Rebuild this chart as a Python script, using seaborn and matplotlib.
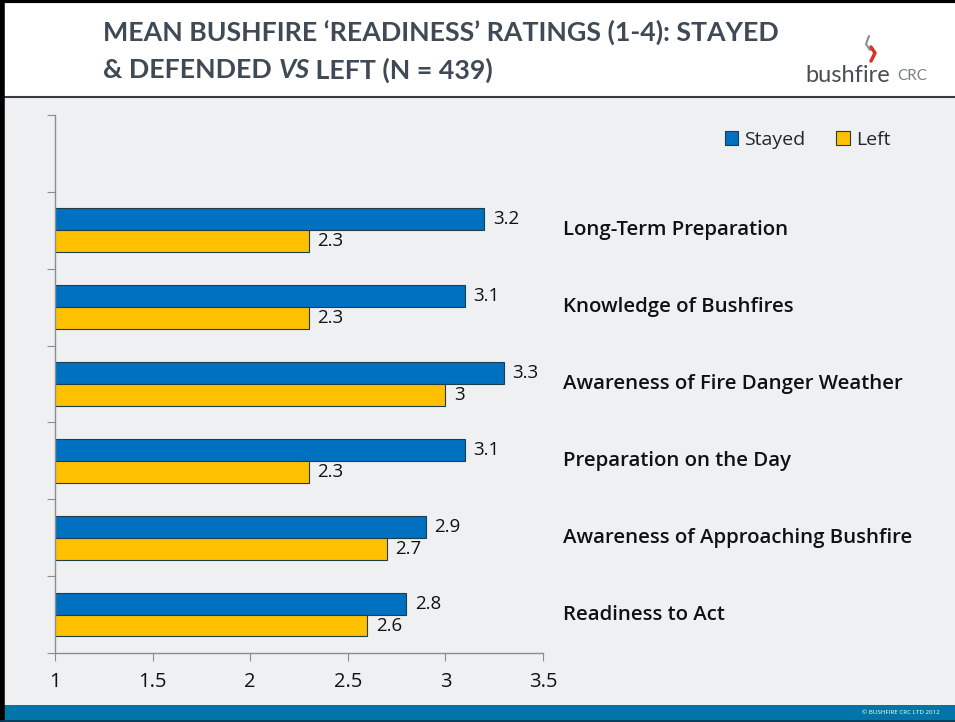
import numpy as np
import pandas as pd
import seaborn as sns
import matplotlib.pyplot as plt
from matplotlib.patches import Rectangle

# data
categories = ['Long-Term Preparation', 'Knowledge of Bushfires',
              'Awareness of Fire Danger Weather', 'Preparation on the Day',
              'Awareness of Approaching Bushfire', 'Readiness to Act']
stayed = [3.2, 3.1, 3.3, 3.1, 2.9, 2.8]
left = [2.3, 2.3, 3.0, 2.3, 2.7, 2.6]
groups = ['Stayed', 'Left']
x_ticks = [1, 1.5, 2, 2.5, 3, 3.5]

df = pd.DataFrame({
    'cat': categories * 2,
    'group': ['Stayed'] * len(categories) + ['Left'] * len(categories),
    'val': stayed + left,
})
order = [''] + categories   # top slot is left empty for the legend

sns.set_style('white')
plt.rcParams['font.family'] = ['Open Sans', 'DejaVu Sans']

bg = '#eff0f2'
fig = plt.figure(figsize=(9.55, 7.22), dpi=100, facecolor=bg)
W, H = 955, 722

# title band, borders, footer
fig.patches.append(Rectangle((0, 1 - 97 / H), 1, 97 / H, transform=fig.transFigure,
                             facecolor='white', edgecolor='none', zorder=0))
fig.add_artist(plt.Line2D([0, 1], [1 - 97 / H] * 2, transform=fig.transFigure,
                          color='#3a3a3a', lw=1.5))
fig.add_artist(plt.Line2D([0.002, 0.002], [0, 1], transform=fig.transFigure,
                          color='black', lw=4))
fig.add_artist(plt.Line2D([0, 1], [0.998, 0.998], transform=fig.transFigure,
                          color='black', lw=3))
fig.patches.append(Rectangle((0, 0), 1, 17 / H, transform=fig.transFigure,
                             facecolor='#0076a8', edgecolor='none'))
fig.add_artist(plt.Line2D([0, 1], [0.002, 0.002], transform=fig.transFigure,
                          color='#0a3d5a', lw=2))
fig.text(0.984, 9 / H, '\u00a9 BUSHFIRE CRC LTD 2012', color='white', fontsize=4.5,
         ha='right', va='center')

# title, line 2 is laid out piece by piece because of the italic "VS"
title_font = ['Lato', 'DejaVu Sans']
tc = '#404a55'
fig.text(103 / W, 1 - 32 / H, 'MEAN BUSHFIRE \u2018READINESS\u2019 RATINGS (1-4): STAYED',
         fontsize=19.3, fontweight='bold', color=tc, va='center', family=title_font)
r = fig.canvas.get_renderer()
x = 103 / W
for part, style in [('& DEFENDED ', 'normal'), ('VS', 'italic'), (' LEFT (N = 439)', 'normal')]:
    t = fig.text(x, 1 - 70 / H, part, fontsize=19.3, fontweight='bold', fontstyle=style,
                 color=tc, va='center', family=title_font)
    x += t.get_window_extent(r).width / W

# logo
fig.text(805 / W, 1 - 75 / H, 'bushfire', fontsize=17, color='#4a4f55', va='center',
         family=title_font)
fig.text(897 / W, 1 - 76 / H, 'CRC', fontsize=11, color='#7a7f85', va='center',
         family=title_font)
fig.add_artist(plt.Line2D([869 / W, 866 / W, 870 / W], [1 - 36 / H, 1 - 44 / H, 1 - 50 / H],
                          transform=fig.transFigure, color='#8a8f95', lw=1.5))
fig.add_artist(plt.Line2D([871 / W, 875 / W, 871 / W], [1 - 47 / H, 1 - 53 / H, 1 - 61 / H],
                          transform=fig.transFigure, color='#d7332a', lw=2.5))

ax = fig.add_axes([55 / W, 69 / H, 488 / W, 538 / H])
ax.set_facecolor(bg)
sns.barplot(data=df, y='cat', x='val', hue='group', order=order, hue_order=groups,
            palette=['#0070c0', '#ffc000'], saturation=1, orient='h', width=0.57,
            edgecolor='#1d3e4c', linewidth=0.8, ax=ax)

for c in ax.containers:
    ax.bar_label(c, fmt='%g', padding=6, fontsize=13.5, color='#111111')

for i, name in enumerate(order):
    if name:
        ax.text(3.6, i, name, fontsize=14.7, va='center', ha='left', color='#111111',
                fontweight='semibold', clip_on=False)

ax.set_xlim(1, 3.5)
ax.set_xticks(x_ticks)
ax.set_xticklabels([f'{t:g}' for t in x_ticks], fontsize=14.5, color='#111111')
ax.set_ylim(6.5, -0.5)
ax.set_yticks(np.arange(-0.5, 7, 1))
ax.set_yticklabels([])
ax.set_xlabel('')
ax.set_ylabel('')
sns.despine(ax=ax)
for s in ['left', 'bottom']:
    ax.spines[s].set_color('#8c8c8c')
    ax.spines[s].set_linewidth(1)
ax.tick_params(axis='both', which='both', direction='out', length=6, color='#8c8c8c',
               left=True, bottom=True)
ax.tick_params(axis='x', pad=8)

ax.legend(loc='center left', bbox_to_anchor=(707 / W, 1 - 140 / H),
          bbox_transform=fig.transFigure, ncol=2, frameon=False, fontsize=14,
          handlelength=0.7, handleheight=0.7, handletextpad=0.3, columnspacing=1.6)

fig.savefig('out.png', dpi=100, facecolor=bg)
